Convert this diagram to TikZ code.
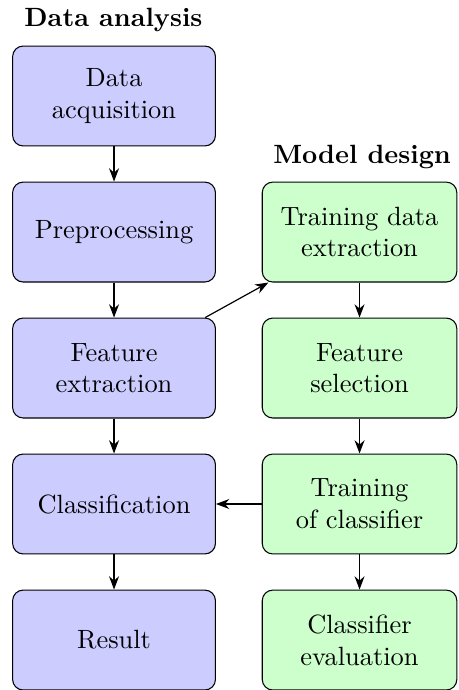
\documentclass[tikz,border=0pt]{standalone}
\usepackage{tikz}
\usetikzlibrary{arrows.meta,positioning}

\begin{document}
\begin{tikzpicture}[
  >=Stealth,
  procbox/.style={
    draw,
    rounded corners=4pt,
    align=center,
    inner sep=2pt,
    minimum height=1.33cm
  },
  analysis/.style={procbox, fill=blue!20, minimum width=2.70cm},
  design/.style={procbox, fill=green!20, minimum width=2.59cm},
  edge/.style={->, line width=0.45pt},
  title/.style={font=\bfseries, anchor=base}
]
  \useasboundingbox (0,0) rectangle (6.097,-9.185);

  \node[title] (tleft) at (1.51,-0.35) {Data analysis};
  \node[title] (tright) at (4.82,-2.18) {Model design};

  \node[analysis] (acq) at (1.518,-1.278) {Data\\ acquisition};
  \node[analysis] (prep) at (1.518,-3.089) {Preprocessing};
  \node[analysis] (feat) at (1.518,-4.899) {Feature\\ extraction};
  \node[analysis] (cls) at (1.518,-6.709) {Classification};
  \node[analysis] (res) at (1.518,-8.520) {Result};

  \node[design] (tde) at (4.786,-3.089) {Training data\\ extraction};
  \node[design] (fsel) at (4.786,-4.899) {Feature\\ selection};
  \node[design] (train) at (4.786,-6.709) {Training\\ of classifier};
  \node[design] (eval) at (4.786,-8.520) {Classifier\\ evaluation};

  \draw[edge] (acq) -- (prep);
  \draw[edge] (prep) -- (feat);
  \draw[edge] (feat) -- (cls);
  \draw[edge] (cls) -- (res);

  \draw[edge] (feat) -- (tde);
  \draw[edge] (tde) -- (fsel);
  \draw[edge] (fsel) -- (train);
  \draw[edge] (train) -- (eval);
  \draw[edge] (train) -- (cls);
\end{tikzpicture}
\end{document}
